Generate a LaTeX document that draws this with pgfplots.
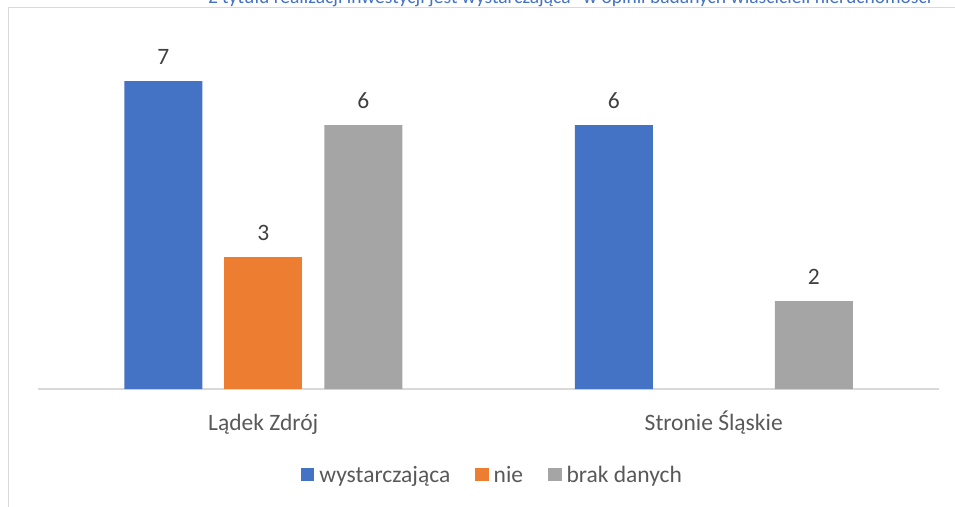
\documentclass[border=0pt]{standalone}
\usepackage{fontspec}
\setmainfont{Carlito}
\usepackage{pgfplots}
\pgfplotsset{compat=1.18}
\definecolor{cblue}{HTML}{4472C4}
\definecolor{corange}{HTML}{ED7D31}
\definecolor{cgray}{HTML}{A5A5A5}
\definecolor{txt}{HTML}{595959}
\definecolor{lbl}{HTML}{404040}
\definecolor{frame}{HTML}{D9D9D9}
\begin{document}
\begin{tikzpicture}
\path[use as bounding box] (0pt,0pt) rectangle (955pt,-506pt);
\clip (0pt,0pt) rectangle (955pt,-506pt);
% chart frame, only its top-left part is visible
\draw[frame, line width=1.5pt] (8.5pt,-520pt) -- (8.5pt,-7.5pt) -- (975pt,-7.5pt);
% title, cut off at the top
\node[anchor=base, text=cblue, inner sep=0pt, font=\fontsize{19.5}{22}\selectfont]
  at (570pt,-4pt) {Z tytułu realizacji inwestycji jest wystarczająca" w opinii badanych właścicieli nieruchomości};
\begin{axis}[
  at={(38pt,-389pt)}, anchor=south west,
  scale only axis, width=901pt, height=352pt,
  xmin=-0.5, xmax=1.5, ymin=0, ymax=8,
  ybar, bar width=78pt,
  axis x line*=bottom, hide y axis,
  x axis line style={frame, line width=1.5pt, -},
  xtick={0,1}, xticklabels={Lądek Zdrój, Stronie Śląskie},
  major tick length=0pt,
  xticklabel style={anchor=base, yshift=-41pt, text=txt, font=\fontsize{23.5}{28}\selectfont},
  /pgf/number format/assume math mode=true,
  nodes near coords,
  every node near coord/.append style={anchor=base, yshift=17pt, inner sep=0pt, text=lbl, font=\fontsize{23.5}{28}\selectfont},
  legend image code/.code={\fill[#1] (0pt,-6.5pt) rectangle (13.4pt,6.5pt);},
  legend columns=3,
  legend style={draw=none, fill=none, at={(0.5044,-0.244)}, anchor=center,
    font=\fontsize{23.5}{28}\selectfont, text=txt,
    /tikz/every odd column/.append style={column sep=3pt},
    /tikz/every even column/.append style={column sep=23pt}},
]
\addplot[fill=cblue, draw=none, bar shift=-100pt] coordinates {(0,7) (1,6)};
\addlegendentry{wystarczająca}
\addplot[fill=corange, draw=none, bar shift=0pt] coordinates {(0,3)};
\addlegendentry{nie}
\addplot[fill=cgray, draw=none, bar shift=100pt] coordinates {(0,6) (1,2)};
\addlegendentry{brak danych}
\end{axis}
\end{tikzpicture}
\end{document}
